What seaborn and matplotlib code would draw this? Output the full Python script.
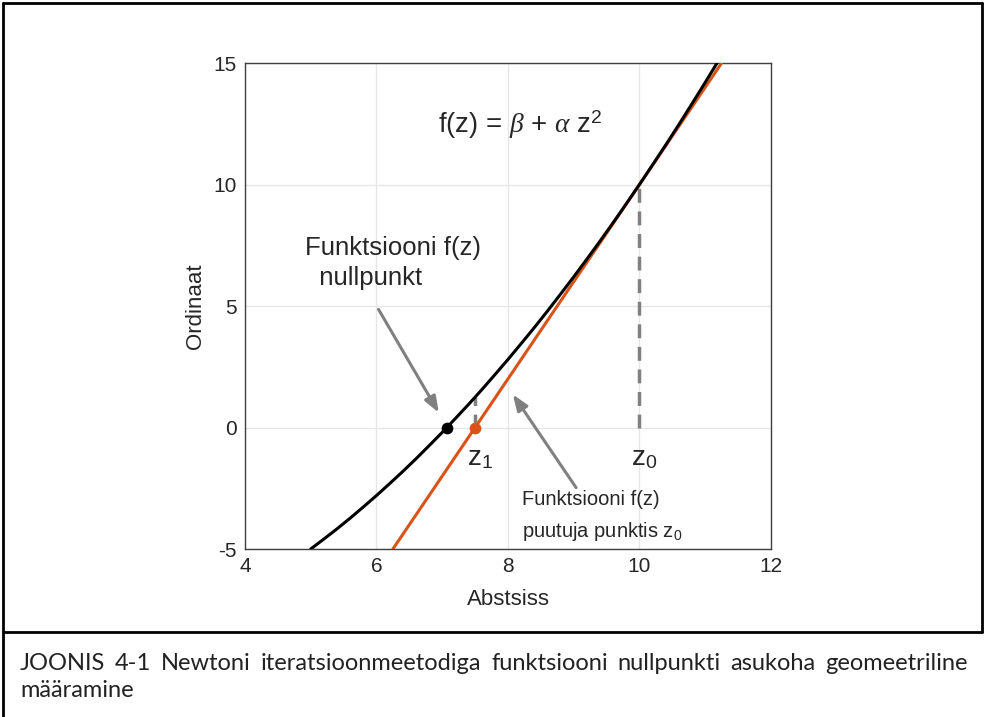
import matplotlib
matplotlib.use("Agg")
import matplotlib.pyplot as plt
import seaborn as sns
import pandas as pd
from matplotlib.lines import Line2D

# ---- data ----
z_curve = [5.0, 5.2, 5.4, 5.6, 5.8, 6.0, 6.2, 6.4, 6.6, 6.8, 7.0, 7.2, 7.4, 7.6,
           7.8, 8.0, 8.2, 8.4, 8.6, 8.8, 9.0, 9.2, 9.4, 9.6, 9.8, 10.0, 10.2,
           10.4, 10.6, 10.8, 11.0, 11.18]
f_curve = [-5.0, -4.59, -4.17, -3.73, -3.27, -2.80, -2.31, -1.81, -1.29, -0.75,
           -0.20, 0.37, 0.95, 1.55, 2.17, 2.80, 3.45, 4.11, 4.79, 5.49, 6.20,
           6.93, 7.67, 8.43, 9.21, 10.00, 10.81, 11.63, 12.47, 13.33, 14.20, 15.0]
z_tangent = [6.25, 11.25]
f_tangent = [-5.0, 15.0]
z_root, z1, z0 = 7.07, 7.5, 10.0
f_z1, f_z0 = 1.25, 10.0
x_ticks = [4, 6, 8, 10, 12]
y_ticks = [-5, 0, 5, 10, 15]
caption_line1 = "JOONIS 4-1 Newtoni iteratsioonmeetodiga funktsiooni nullpunkti asukoha geomeetriline"
caption_line2 = "määramine"

sns.set_theme(style="white")
plt.rcParams["font.family"] = ["Liberation Sans", "DejaVu Sans"]
plt.rcParams["axes.unicode_minus"] = False
plt.rcParams["mathtext.fontset"] = "custom"
plt.rcParams["mathtext.rm"] = "Liberation Sans"
plt.rcParams["mathtext.it"] = "Liberation Serif:italic"

fig = plt.figure(figsize=(9.85, 7.17), dpi=100)
ax = fig.add_axes([0.2487, 0.2343, 0.534, 0.6778])

orange = "#D95319"
grey = "#808080"

ax.grid(True, color="#e6e6e6", linewidth=1.0)
ax.set_axisbelow(True)

# dashed verticals
ax.plot([z0, z0], [0, f_z0], color=grey, linestyle=(0, (4, 2.5)), linewidth=2.5, zorder=2)
ax.plot([z1, z1], [0, f_z1], color=grey, linestyle=(0, (4, 2.5)), linewidth=2.5, zorder=2)

sns.lineplot(x=z_curve, y=f_curve, ax=ax, color="black", linewidth=2.2,
             sort=False, estimator=None, zorder=4)
sns.lineplot(x=z_tangent, y=f_tangent, ax=ax, color=orange, linewidth=2.2,
             sort=False, estimator=None, zorder=3)
ax.scatter([z_root], [0], color="black", s=55, zorder=6)
ax.scatter([z1], [0], color=orange, s=55, zorder=6)

ax.set_xlim(4, 12)
ax.set_ylim(-5, 15)
ax.set_xticks(x_ticks)
ax.set_yticks(y_ticks)
ax.tick_params(direction="in", length=5, labelsize=15, colors="#262626", pad=6)
for s in ax.spines.values():
    s.set_color("#404040")
    s.set_linewidth(1.0)
ax.set_xlabel("Abstsiss", fontsize=16, color="#262626", labelpad=9)
ax.set_ylabel("Ordinaat", fontsize=16, color="#262626", labelpad=5)

ax.text(6.94, 12.45, r"f(z) = $\beta$ + $\alpha$ z$^{\mathrm{2}}$", fontsize=19.8,
        va="center", ha="left")
ax.text(4.91, 6.77, "Funktsiooni f(z)\n  nullpunkt", fontsize=18.5, va="center",
        ha="left", linespacing=1.3)
ax.annotate("", xy=(6.97, 0.51), xytext=(6.01, 4.96),
            arrowprops=dict(arrowstyle="-|>,head_length=0.8,head_width=0.3",
                            color=grey, lw=2.2))
ax.annotate("", xy=(8.05, 1.46), xytext=(9.06, -2.57),
            arrowprops=dict(arrowstyle="-|>,head_length=0.8,head_width=0.3",
                            color=grey, lw=2.2))
ax.text(8.21, -2.98, "Funktsiooni f(z)", fontsize=14.5, va="center", ha="left")
ax.text(8.21, -4.26, r"puutuja punktis z$_{\mathrm{0}}$", fontsize=14.5, va="center", ha="left")
ax.text(7.37, -1.25, r"z$_{\mathrm{1}}$", fontsize=20, va="center", ha="left")
ax.text(9.87, -1.25, r"z$_{\mathrm{0}}$", fontsize=20, va="center", ha="left")

# outer frame
W, H = 985, 717
def fl(x0, y0, x1, y1):
    fig.add_artist(Line2D([x0 / W, x1 / W], [1 - y0 / H, 1 - y1 / H],
                          color="black", linewidth=2.0))
fl(3, 3, 982, 3)
fl(3, 3, 3, 717)
fl(982, 3, 982, 632)
fl(3, 632, 982, 632)

# justified caption line 1
cap_kw = dict(fontsize=17, family=["Lato", "DejaVu Sans"], color="#222222",
              va="baseline")
words = caption_line1.split(" ")
renderer = fig.canvas.get_renderer()
objs = [fig.text(0, 1 - 670 / H, w, **cap_kw) for w in words]
widths = [o.get_window_extent(renderer).width for o in objs]
x_left, x_right = 20.0, 968.0
gap = (x_right - x_left - sum(widths)) / (len(words) - 1)
x = x_left
for o, w in zip(objs, widths):
    o.set_x(x / W)
    x += w + gap
fig.text(x_left / W, 1 - 697 / H, caption_line2, **cap_kw)

fig.savefig("out.png", dpi=100)
